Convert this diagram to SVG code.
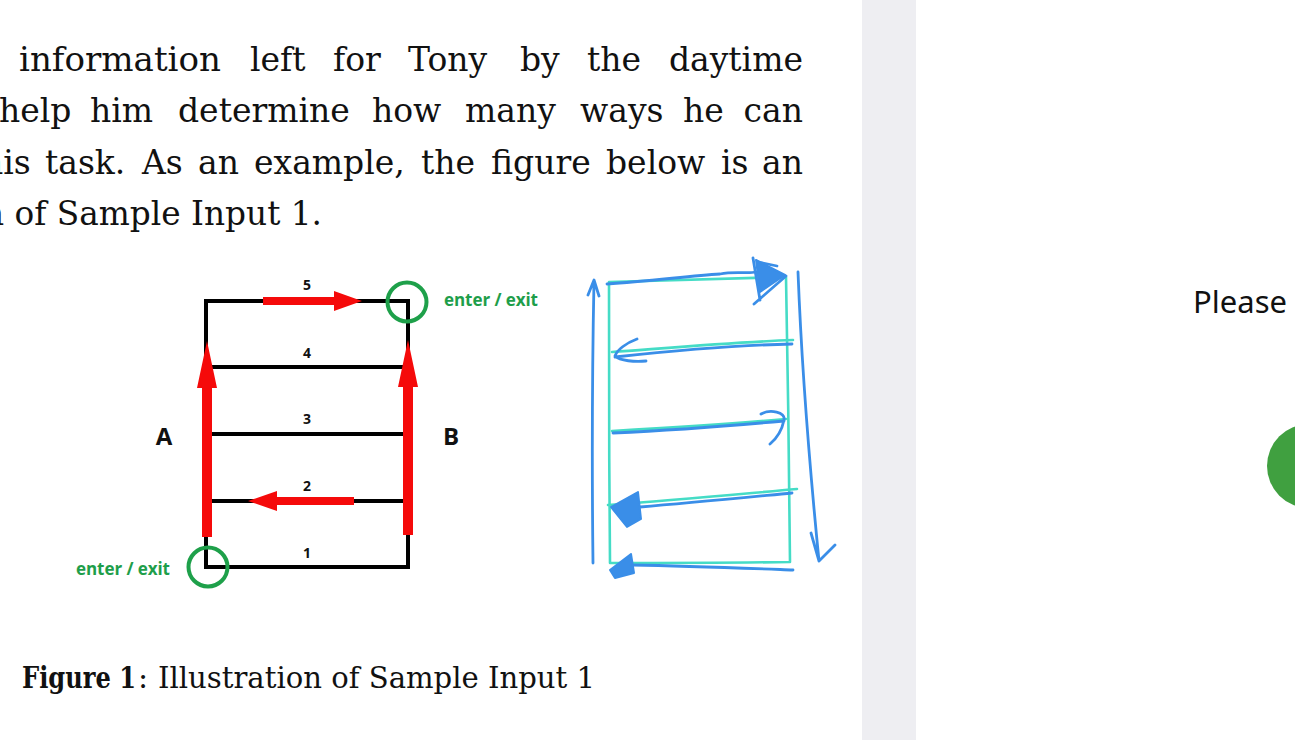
<svg xmlns="http://www.w3.org/2000/svg" width="1295" height="740" viewBox="0 0 1295 740">
<style>
.para text{font-family:"DejaVu Serif","Liberation Serif",serif;font-size:33px;fill:#111}
.cap text{font-family:"DejaVu Serif","Liberation Serif",serif;font-size:30px;fill:#111}
.capb{font-family:"Liberation Serif","Times New Roman",serif;font-weight:700;font-size:33px;fill:#111}
.lbl{font-family:"Open Sans","Liberation Sans",sans-serif;font-weight:700;fill:#111}
.ee{font-family:"Open Sans","Liberation Sans",sans-serif;font-weight:700;font-size:17px;fill:#1e9e4a}
.blk{stroke:#000;stroke-width:4;fill:none;stroke-linecap:square}
.red{fill:#f50a0a}
.ring{fill:none;stroke:#1ea04a;stroke-width:4}
.cy{fill:none;stroke:#45dcc6;stroke-width:2.6;stroke-linecap:round;stroke-linejoin:round}
.bl{fill:none;stroke:#3a8ee8;stroke-width:2.8;stroke-linecap:round;stroke-linejoin:round}
.blf{fill:#3a8ee8;stroke:#3a8ee8;stroke-width:2;stroke-linejoin:round}
</style>
<rect width="1295" height="740" fill="#fff"/>
<rect x="862" y="0" width="54" height="740" fill="#eeeef2"/>

<g id="paragraph" class="para">
<text x="19" y="71" textLength="202" lengthAdjust="spacingAndGlyphs">information</text>
<text x="250" y="71">left</text>
<text x="333" y="71">for</text>
<text x="408" y="71">Tony</text>
<text x="520" y="71">by</text>
<text x="587" y="71">the</text>
<text x="803" y="71" text-anchor="end">daytime</text>

<text x="-1" y="122">help</text>
<text x="90" y="122">him</text>
<text x="178" y="122">determine</text>
<text x="372" y="122">how</text>
<text x="465" y="122">many</text>
<text x="580" y="122">ways</text>
<text x="683" y="122">he</text>
<text x="803" y="122" text-anchor="end">can</text>

<text x="-18" y="174">his</text>
<text x="45" y="174">task.</text>
<text x="142" y="174">As</text>
<text x="198" y="174">an</text>
<text x="254" y="174">example,</text>
<text x="421" y="174">the</text>
<text x="491" y="174">figure</text>
<text x="606" y="174">below</text>
<text x="721" y="174">is</text>
<text x="803" y="174" text-anchor="end">an</text>

<text x="-17" y="225" textLength="339" lengthAdjust="spacingAndGlyphs">n of Sample Input 1.</text>
</g>

<g id="caption" class="cap">
<text class="capb" x="22" y="688" textLength="114" lengthAdjust="spacingAndGlyphs">Figure 1</text>
<text x="138" y="688">:</text>
<text x="158" y="688" textLength="437" lengthAdjust="spacingAndGlyphs">Illustration of Sample Input 1</text>
</g>

<g id="ladder">
<rect class="blk" x="206" y="301" width="202" height="266"/>
<line class="blk" x1="206" y1="367" x2="408" y2="367"/>
<line class="blk" x1="206" y1="434" x2="408" y2="434"/>
<line class="blk" x1="206" y1="501" x2="408" y2="501"/>
</g>

<g id="connectors">
<polygon class="red" points="263,297 334,297 334,291 362,301 334,311 334,305 263,305"/>
<polygon class="red" points="202,537 202,388 197,388 207,341 217,388 212,388 212,537"/>
<polygon class="red" points="403,535 403,387 398,387 408,340 418,387 413,387 413,535"/>
<polygon class="red" points="354,497 277,497 277,491 248,501 277,511 277,505 354,505"/>
</g>

<g id="rings">
<circle class="ring" cx="407" cy="302" r="19.5"/>
<circle class="ring" cx="208" cy="567" r="19.5"/>
</g>

<g id="labels">
<text class="lbl" font-size="14" x="307" y="290" text-anchor="middle">5</text>
<text class="lbl" font-size="14" x="307" y="358" text-anchor="middle">4</text>
<text class="lbl" font-size="14" x="307" y="424" text-anchor="middle">3</text>
<text class="lbl" font-size="14" x="307" y="491" text-anchor="middle">2</text>
<text class="lbl" font-size="14" x="307" y="558" text-anchor="middle">1</text>
<text class="lbl" font-size="24" x="164" y="445" text-anchor="middle">A</text>
<text class="lbl" font-size="24" x="451" y="445" text-anchor="middle">B</text>
<text class="ee" x="444" y="306" textLength="94">enter / exit</text>
<text class="ee" x="76" y="575" textLength="94">enter / exit</text>
</g>

<g id="sketch">
<path class="cy" d="M609,282 C680,280 740,278 786,277 C788,370 789,470 790,562 C720,563 660,563 610,563 C609,470 609,370 609,282 Z"/>
<path class="cy" d="M612,352 C680,347 740,342 793,340"/>
<path class="cy" d="M612,431 C680,427 740,423 786,419"/>
<path class="cy" d="M608,505 C680,500 740,494 797,489"/>
<path class="bl" d="M607,284 C650,281 690,276 720,274 C735,271 748,274 756,272"/>
<path class="blf" d="M756,260 L785,275 L760,292 Z"/>
<path class="bl" d="M753,258 L760,300 M754,304 L786,276 M758,262 L777,266"/>
<path class="bl" d="M593,563 C592,480 592,380 594,281 M588,295 L594,280 L599,296"/>
<path class="bl" stroke-width="5" d="M798,272 C801,350 808,450 819,561 M811,533 L819,561 L835,545"/>
<path class="bl" d="M792,344 C740,345 680,350 615,357 M637,339 C626,343 617,350 615,356 C620,361 635,362 646,361"/>
<path class="bl" d="M613,433 C680,430 740,425 784,421 M761,414 C770,409 786,412 784,420 C782,430 776,439 770,444"/>
<path class="bl" d="M792,493 C740,498 690,503 640,507"/>
<path class="blf" d="M638,492 L611,507 L627,527 L641,519 Z"/>
<path class="bl" d="M793,570 C740,568 690,566 632,565"/>
<path class="blf" d="M631,554 L610,570 L615,578 L634,573 Z"/>
</g>

<g id="side">
<text x="1193" y="313" font-family="Noto Sans, Open Sans, sans-serif" font-size="31" fill="#111">Please</text>
<circle cx="1309" cy="466" r="42" fill="#40a040"/>
</g>
</svg>
